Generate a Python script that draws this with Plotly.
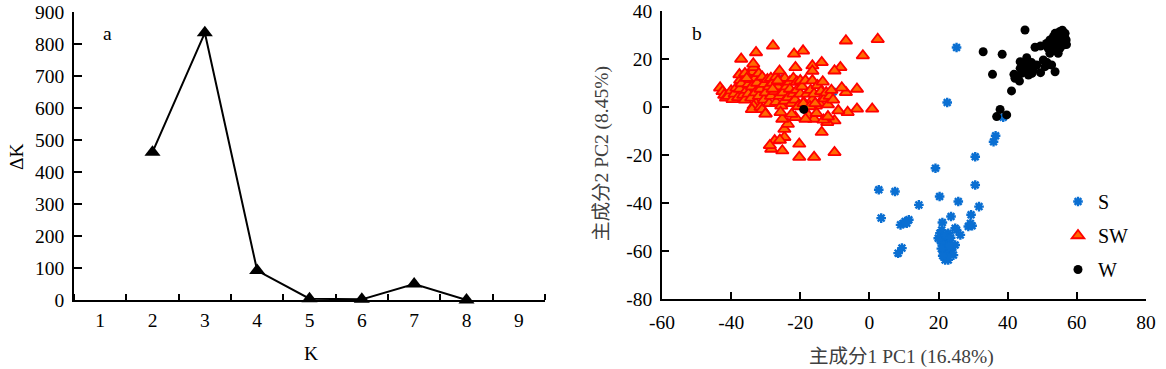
import plotly.graph_objects as go

# ---- Panel a data ----
k_vals = [2, 3, 4, 5, 6, 7, 8]
delta_k = [462, 835, 92, 4, 2, 50, 0]
k_ticks = [1, 2, 3, 4, 5, 6, 7, 8, 9]
dk_ticks = [0, 100, 200, 300, 400, 500, 600, 700, 800, 900]
pc1_ticks = [-60, -40, -20, 0, 20, 40, 60, 80]
pc2_ticks = [-80, -60, -40, -20, 0, 20, 40]

# ---- Panel b data ----
s_x = [25.2, 22.5, -26.2, -10.5, 38.7, 36.5, 35.9, 30.6, 19.1, 30.6, 2.7, 7.4, 20.3, 25.7, 14.3, 31.7,
       29.4, 23.6, 3.4, 21.1, 9.0, 9.8, 10.3, 11.4, 10.8, 28.6, 29.7, 29.2, 25.2, 26.3, 24.8, 8.3, 9.4,
       20.4, 21.4, 22.4, 20.9, 23.3, 21.9, 23.8, 22.4, 22.8, 21.9, 24.3, 19.9, 20.9, 22.8, 24.8, 21.4,
       20.5, 21.5, 22.0, 23.0, 22.5, 20.8, 21.2, 23.5]
s_y = [24.8, 1.9, 11.9, 6.4, -4.3, -12.0, -14.5, -20.7, -25.5, -32.5, -34.5, -35.2, -37.3, -39.4, -40.8, -41.5,
       -44.9, -45.6, -46.3, -48.1, -49.1, -48.5, -47.7, -47.0, -48.4, -49.8, -49.5, -48.5, -51.2, -53.3, -50.5, -60.9, -58.8,
       -52.6, -54.0, -55.4, -56.8, -56.8, -58.9, -59.6, -61.0, -63.7, -63.7, -61.7, -54.7, -51.3, -52.6, -57.5, -60.3,
       -55.5, -57.5, -53.5, -58.0, -62.5, -59.0, -62.0, -54.5]

sw_x = [-43.2, -42.5, -42.0, -41.5, -40.8, -40.0, -39.6, -39.0, -38.5, -38.0, -37.5, -37.4, -37.6, -37.0, -36.5,
        -36.0, -35.5, -35.0, -35.0, -34.5, -34.2, -34.0, -33.8, -33.5, -33.6, -33.0, -33.0, -32.8, -33.5, -34.0,
        -32.5, -32.0, -32.0, -31.5, -31.5, -31.0, -31.0, -30.5, -30.5, -30.0, -30.0, -29.5, -29.0, -29.0, -28.5,
        -28.5, -28.0, -27.5, -27.0, -27.0, -26.5, -26.0, -26.0, -25.5, -25.5, -25.0, -24.5, -24.5, -24.0, -23.5,
        -23.0, -23.0, -22.5, -22.0, -22.0, -21.5, -21.0, -21.0, -20.5, -20.0, -20.0, -19.5, -19.0, -18.5, -18.0,
        -17.5, -17.0, -16.5, -16.5, -16.0, -15.5, -15.0, -14.5, -14.0, -13.5, -13.0, -12.5, -12.0, -11.5, -11.0,
        -10.5,
        2.4, -6.8, -27.9, -19.2, -21.8, -32.8, -1.9, -37.1, -21.4, -16.5, -13.8, -8.4, -10.1, -16.5, -3.6, -6.8,
        -8.0, 0.8, -3.6, -6.3, -9.0, -10.1, -12.2, -13.8, -20.3, -10.1, -16.0, -20.3, -25.2, -28.4, -27.4, -24.6,
        -24.6, -23.6, -25.2, -25.7, -30.1, -21.4, -17.6, -16.0, -18.5, -13.3, -12.0, -15.3, -20.6, -19.1, -17.2,
        -15.7, -25.9, -28.8, -22.5, -26.5, -28.0, -36.0, -35.5]
sw_y = [8.0, 6.5, 5.0, 3.8, 4.5, 6.8, 3.2, 5.5, 8.0, 4.0, 7.5, 11.2, 13.5, 9.8, 5.0,
        3.0, 7.0, 9.5, 5.5, 11.5, 3.8, 8.5, 14.5, 16.5, 18.0, 12.0, 6.0, 1.5, 0.5, -1.0,
        10.0, 4.5, 14.0, 7.5, 0.0, 12.5, -1.0, 9.5, 3.0, -2.8, 6.0, 11.5, 8.5, 1.5, 12.0,
        4.5, 10.0, 6.5, 12.5, 2.0, 8.5, 15.0, 4.5, 10.5, 0.5, 6.0, 12.0, 2.5, 8.5, 4.0,
        10.5, 7.5, 1.5, 12.0, 5.5, 3.0, 10.5, 7.0, 0.5, 11.0, 5.5, 8.5, 2.0, 11.0, 5.5,
        0.5, 7.0, 11.0, 3.0, 5.5, 0.5, 9.0, 1.5, 6.5, 10.5, 3.5, 6.0, 1.0, 4.5, 7.0,
        3.0,
        28.2, 27.6, 25.5, 23.4, 22.1, 22.7, 21.4, 20.0, 16.5, 17.2, 18.6, 16.5, 15.1, 15.0, 7.5, 6.1,
        8.0, -0.8, -0.8, -2.2, -1.5, -5.7, -6.4, -10.5, -15.4, -18.9, -20.9, -20.9, -18.2, -17.5, -14.0, -12.6,
        -9.2, -7.1, -5.0, -2.2, -2.9, -4.3, -3.6, -5.0, -5.0, -5.4, -4.0, -2.6, 0.2, 1.5, 0.2,
        1.5, -13.75, -16.0, -3.0, 11.0, 7.5, 14.0, 12.0]

w_x = [-19.0, 45.0, 32.9, 38.4, 35.6, 41.1, 37.8, 36.8, 39.7, 41.8, 42.1, 43.4, 43.6, 45.0, 45.5, 44.5,
       46.0, 46.9, 47.4, 48.4, 46.4, 49.5, 47.9, 49.5, 50.3, 51.4, 50.8, 52.7, 53.7, 52.2, 51.7, 53.2,
       54.6, 52.2, 53.2, 54.1, 55.1, 55.6, 56.6, 56.9, 56.1, 55.1, 53.7, 54.1, 51.2, 55.1, 56.5, 55.8,
       43.6, 42.6, 44.0, 47.0, 52.5, 54.5, 53.0, 56.0, 57.0]
w_y = [-1.0, 32.1, 23.0, 22.0, 13.6, 6.7, -1.0, -4.0, -3.3, 13.6, 12.0, 10.8, 18.9, 17.5, 20.5, 15.4,
       13.3, 18.5, 15.4, 17.5, 16.1, 14.3, 24.9, 25.4, 19.6, 18.5, 16.8, 17.5, 14.7, 22.4, 24.5, 23.8,
       22.4, 27.9, 29.3, 26.5, 31.5, 30.0, 30.7, 27.9, 25.8, 28.6, 30.7, 25.1, 26.5, 24.5, 29.0, 32.0,
       16.1, 12.6, 14.0, 14.0, 25.5, 28.0, 27.0, 27.0, 26.0]

SERIF = "Liberation Serif, Times New Roman, serif"
CJK = "Liberation Serif, Noto Sans CJK SC, serif"
FS = 19.5

# body margin is removed in the page, so the figure fills the 1166x369 window
W, H = 1166, 369


def px(xp):
    return xp / W


def py(yp):
    return (H - yp) / H


fig = go.Figure()

fig.add_trace(go.Scatter(
    x=k_vals, y=delta_k, mode="lines+markers",
    line=dict(color="black", width=2),
    marker=dict(symbol="triangle-up", size=14, color="black"),
    cliponaxis=False, showlegend=False, xaxis="x", yaxis="y"))

fig.add_trace(go.Scatter(
    x=s_x, y=s_y, mode="markers", name="S",
    marker=dict(symbol="asterisk-open", size=8, color="#0a6fd2",
                line=dict(color="#0a6fd2", width=2.4)),
    cliponaxis=False, legendgroup="S", xaxis="x2", yaxis="y2"))
fig.add_trace(go.Scatter(
    x=sw_x, y=sw_y, mode="markers", name="SW",
    marker=dict(symbol="triangle-up", size=11, color="#ff6a00",
                line=dict(color="#ff0000", width=1.8)),
    cliponaxis=False, legendgroup="SW", xaxis="x2", yaxis="y2"))
fig.add_trace(go.Scatter(
    x=w_x, y=w_y, mode="markers", name="W",
    marker=dict(symbol="circle", size=9, color="black"),
    cliponaxis=False, legendgroup="W", xaxis="x2", yaxis="y2"))

axis_common = dict(showline=True, linecolor="black", linewidth=1.5, showgrid=False,
                   zeroline=False, tickfont=dict(family=SERIF, size=FS, color="black"),
                   ticks="inside", tickcolor="black", tickwidth=1.5, automargin=False,
                   ticklabeloverflow="allow")


def lbl(v):
    return str(v).replace("\u2212", "-")


fig.update_layout(
    width=W, height=H,
    margin=dict(l=0, r=0, t=0, b=0, autoexpand=False),
    paper_bgcolor="white", plot_bgcolor="white",
    xaxis=dict(domain=[px(74), px(545)], range=[0.5, 9.5], anchor="y",
               tickvals=k_ticks, ticktext=[lbl(v) for v in k_ticks],
               ticklabelstandoff=2,
               minor=dict(tickvals=[i + 0.5 for i in range(0, 10)], ticks="inside",
                          ticklen=6, tickwidth=1.5, tickcolor="black"),
               **{**axis_common, "ticks": ""}),
    yaxis=dict(domain=[py(300), py(12)], range=[0, 900], anchor="x",
               tickvals=dk_ticks, ticktext=[lbl(v) for v in dk_ticks],
               ticklen=8, ticklabelstandoff=4, **axis_common),
    xaxis2=dict(domain=[px(662), px(1146)], range=[-60, 80], anchor="y2",
                tickvals=pc1_ticks, ticktext=[lbl(v) for v in pc1_ticks],
                ticklen=7, ticklabelstandoff=5, **axis_common),
    yaxis2=dict(domain=[py(299), py(11)], range=[-80, 40], anchor="x2",
                tickvals=pc2_ticks, ticktext=[lbl(v) for v in pc2_ticks],
                ticklen=7, ticklabelstandoff=4, **axis_common),
    legend=dict(x=px(1058), y=py(182), xanchor="left", yanchor="top",
                font=dict(family=SERIF, size=20, color="black"),
                bgcolor="rgba(0,0,0,0)", tracegroupgap=5),
    annotations=[
        dict(text="a", x=px(107), y=py(33)),
        dict(text="b", x=px(697), y=py(33)),
        dict(text="ΔK", x=px(16), y=py(157), textangle=-90),
        dict(text="K", x=px(311), y=py(353)),
        dict(text="主成分1 PC1 (16.48%)", x=px(901), y=py(357),
             font=dict(family=CJK, size=FS, color="#404040")),
        dict(text="主成分2 PC2 (8.45%)", x=px(602), y=py(154), textangle=-90,
             font=dict(family=CJK, size=FS, color="#404040")),
    ],
)
fig.update_annotations(xref="paper", yref="paper", showarrow=False,
                       xanchor="center", yanchor="middle")
for a in fig.layout.annotations:
    if a.font.family is None:
        a.font = dict(family=SERIF, size=FS, color="black")

fig.write_html("out.html",
               config={"displayModeBar": False},
               post_script="document.body.style.margin='0px';"
                           "document.body.style.overflow='hidden';")
